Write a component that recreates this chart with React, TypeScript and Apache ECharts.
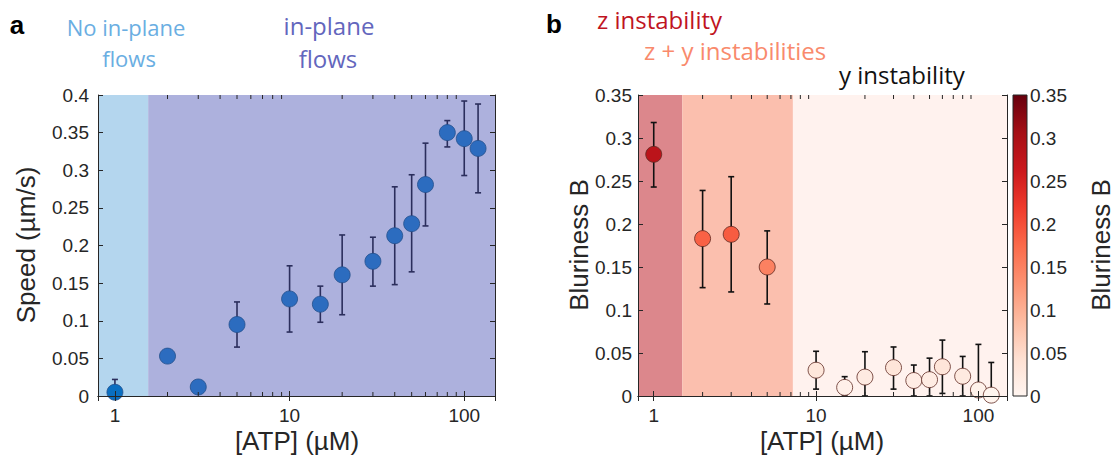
import React, { useEffect, useRef } from "react";
import * as echarts from "echarts";

// ---------- Panel a data ----------
const atpA = [1, 2, 3, 5, 10, 15, 20, 30, 40, 50, 60, 80, 100, 120];
const speed = [0.005, 0.053, 0.012, 0.095, 0.129, 0.122, 0.161, 0.179, 0.213, 0.229, 0.281, 0.35, 0.342, 0.329];
const speedLow = [0, 0.051, 0.01, 0.065, 0.085, 0.098, 0.108, 0.146, 0.148, 0.165, 0.226, 0.331, 0.293, 0.27];
const speedHigh = [0.022, 0.055, 0.014, 0.125, 0.173, 0.146, 0.214, 0.211, 0.278, 0.294, 0.336, 0.366, 0.392, 0.388];
const regionsA = [
  [0.8, 1.55],
  [1.55, 150],
];

// ---------- Panel b data ----------
const atpB = [1, 2, 3, 5, 10, 15, 20, 30, 40, 50, 60, 80, 100, 120];
const blur = [0.281, 0.183, 0.188, 0.15, 0.03, 0.01, 0.022, 0.033, 0.018, 0.019, 0.034, 0.023, 0.007, 0.001];
const blurLow = [0.243, 0.126, 0.121, 0.107, 0.008, 0, 0, 0.008, 0, 0, 0.003, 0, 0, 0];
const blurHigh = [0.318, 0.239, 0.255, 0.192, 0.052, 0.0225, 0.0515, 0.057, 0.036, 0.044, 0.065, 0.046, 0.06, 0.039];
const regionsB = [
  [0.8, 1.5],
  [1.5, 7.2],
  [7.2, 150],
];

// ---------- Axis ticks ----------
const xMin = 0.8;
const xMax = 150;
const minorTicks = [2, 3, 4, 5, 6, 7, 8, 9, 20, 30, 40, 50, 60, 70, 80, 90];

const REDS = ["#fff5f0", "#fee0d2", "#fcbba1", "#fc9272", "#fb6a4a", "#ef3b2c", "#cb181d", "#a50f15", "#67000d"];
const AX = "#262626";
const LABEL_FONT = "'Liberation Sans', Arial, sans-serif";
const ANNOT_FONT = "'Open Sans', sans-serif";

export default function App() {
  const ref = useRef<HTMLDivElement>(null);

  useEffect(() => {
    if (!ref.current) return;
    const chart = echarts.init(ref.current, undefined, { renderer: "svg" });

    const logX = (gridIndex: number, position: "bottom" | "top", labels: boolean) => ({
      type: "log",
      logBase: 10,
      gridIndex,
      position,
      min: xMin,
      max: xMax,
      z: 10,
      axisLine: { show: true, lineStyle: { color: AX, width: 1 } },
      axisTick: { show: true, inside: true, length: 5, lineStyle: { color: AX } },
      axisLabel: {
        show: labels,
        showMinLabel: false,
        showMaxLabel: false,
        color: AX,
        fontSize: 19,
        fontFamily: LABEL_FONT,
        margin: 10,
      },
      splitLine: { show: false },
      minorTick: { show: false },
    });

    const valY = (gridIndex: number, position: "left" | "right", max: number, labels: boolean, margin = 9) => ({
      type: "value",
      gridIndex,
      position,
      min: 0,
      max,
      interval: 0.05,
      z: 10,
      axisLine: { show: true, lineStyle: { color: AX, width: 1 } },
      axisTick: { show: true, inside: true, length: 5, lineStyle: { color: AX } },
      axisLabel: { show: labels, color: AX, fontSize: 19, fontFamily: LABEL_FONT, margin },
      splitLine: { show: false },
    });

    const minorTickSeries = (xi: number, yi: number, yMaxV: number) => ({
      type: "custom",
      xAxisIndex: xi,
      yAxisIndex: yi,
      silent: true,
      clip: false,
      z: 11,
      data: minorTicks.map((v) => [v, 0]),
      renderItem: (params: any, api: any) => {
        const v = api.value(0);
        const b = api.coord([v, 0]);
        const t = api.coord([v, yMaxV]);
        const st = { stroke: AX, lineWidth: 1 };
        return {
          type: "group",
          children: [
            { type: "line", shape: { x1: b[0], y1: b[1], x2: b[0], y2: b[1] - 4 }, style: st },
            { type: "line", shape: { x1: t[0], y1: t[1], x2: t[0], y2: t[1] + 4 }, style: st },
          ],
        };
      },
    });

    const errSeries = (xi: number, yi: number, xs: number[], lo: number[], hi: number[], color: string) => ({
      type: "custom",
      xAxisIndex: xi,
      yAxisIndex: yi,
      silent: true,
      clip: false,
      z: 3,
      encode: { x: 0, y: [1, 2] },
      data: xs.map((x, i) => [x, lo[i], hi[i]]),
      renderItem: (params: any, api: any) => {
        const x = api.value(0);
        const pl = api.coord([x, api.value(1)]);
        const ph = api.coord([x, api.value(2)]);
        const cap = 3;
        const st = { stroke: color, lineWidth: 1.6 };
        return {
          type: "group",
          children: [
            { type: "line", shape: { x1: pl[0], y1: pl[1], x2: ph[0], y2: ph[1] }, style: st },
            { type: "line", shape: { x1: ph[0] - cap, y1: ph[1], x2: ph[0] + cap, y2: ph[1] }, style: st },
            { type: "line", shape: { x1: pl[0] - cap, y1: pl[1], x2: pl[0] + cap, y2: pl[1] }, style: st },
          ],
        };
      },
    });

    const regionColorsA = ["#b4d6ee", "#adb1dd"];
    const regionColorsB = ["#dc878c", "#fbbfae", "#fff2ee"];

    const option: any = {
      animation: false,
      backgroundColor: "#ffffff",
      grid: [
        { left: 98, top: 95, width: 397, height: 301 },
        { left: 638, top: 95, width: 369, height: 301 },
        {
          left: 1013,
          top: 95,
          width: 14,
          height: 301,
          show: true,
          borderColor: AX,
          borderWidth: 1,
          backgroundColor: new echarts.graphic.LinearGradient(0, 0, 0, 1, REDS.slice().reverse().map((c, i, a) => ({ offset: i / (a.length - 1), color: c }))),
        },
      ],
      xAxis: [
        logX(0, "bottom", true),
        logX(0, "top", false),
        logX(1, "bottom", true),
        logX(1, "top", false),
        { type: "value", gridIndex: 2, min: 0, max: 1, show: false },
      ],
      yAxis: [
        valY(0, "left", 0.4, true, 9),
        valY(0, "right", 0.4, false),
        valY(1, "left", 0.35, true, 6),
        valY(1, "right", 0.35, false),
        {
          type: "value",
          gridIndex: 2,
          position: "right",
          min: 0,
          max: 0.35,
          interval: 0.05,
          axisLine: { show: false },
          axisTick: { show: false },
          axisLabel: { show: true, color: AX, fontSize: 19, fontFamily: LABEL_FONT, margin: 3 },
          splitLine: { show: false },
        },
      ],
      visualMap: {
        type: "continuous",
        show: false,
        seriesIndex: 7,
        dimension: 1,
        min: 0,
        max: 0.35,
        inRange: { color: REDS },
      },
      series: [
        // 0: regions a
        {
          type: "scatter",
          xAxisIndex: 0,
          yAxisIndex: 0,
          data: [],
          silent: true,
          z: 1,
          markArea: {
            silent: true,
            data: regionsA.map((r, i) => [
              { xAxis: r[0], itemStyle: { color: regionColorsA[i], opacity: 1 } },
              { xAxis: r[1] },
            ]),
          },
        },
        // 1: minor ticks a
        minorTickSeries(0, 0, 0.4),
        // 2: error bars a
        errSeries(0, 0, atpA, speedLow, speedHigh, "#2b2e5c"),
        // 3: points a
        {
          type: "scatter",
          xAxisIndex: 0,
          yAxisIndex: 0,
          symbolSize: 16,
          z: 4,
          clip: false,
          data: atpA.map((x, i) => ({
            value: [x, speed[i]],
            itemStyle: { color: i === 0 ? "#0a6fc1" : "#2c6cbf" },
          })),
          itemStyle: { borderColor: "#234f8c", borderWidth: 0.8, opacity: 1 },
        },
        // 4: regions b
        {
          type: "scatter",
          xAxisIndex: 2,
          yAxisIndex: 2,
          data: [],
          silent: true,
          z: 1,
          markArea: {
            silent: true,
            data: regionsB.map((r, i) => [
              { xAxis: r[0], itemStyle: { color: regionColorsB[i], opacity: 1 } },
              { xAxis: r[1] },
            ]),
          },
        },
        // 5: minor ticks b
        minorTickSeries(2, 2, 0.35),
        // 6: error bars b
        errSeries(2, 2, atpB, blurLow, blurHigh, "#111111"),
        // 7: points b
        {
          type: "scatter",
          xAxisIndex: 2,
          yAxisIndex: 2,
          symbolSize: 16,
          z: 4,
          clip: false,
          data: atpB.map((x, i) => [x, blur[i]]),
          itemStyle: { borderColor: "#5e2a22", borderWidth: 0.8, opacity: 1 },
        },
      ],
      graphic: [
        { type: "text", x: 17, y: 25, style: { text: "a", fontSize: 26, fontWeight: "bold", fontFamily: LABEL_FONT, fill: "#000", textAlign: "center", textVerticalAlign: "middle" } },
        { type: "text", x: 554, y: 24, style: { text: "b", fontSize: 26, fontWeight: "bold", fontFamily: LABEL_FONT, fill: "#000", textAlign: "center", textVerticalAlign: "middle" } },
        { type: "text", x: 126, y: 27, style: { text: "No in-plane", fontSize: 22, fontFamily: ANNOT_FONT, fill: "#6aaee2", textAlign: "center", textVerticalAlign: "middle" } },
        { type: "text", x: 129, y: 58, style: { text: "flows", fontSize: 22, fontFamily: ANNOT_FONT, fill: "#6aaee2", textAlign: "center", textVerticalAlign: "middle" } },
        { type: "text", x: 329, y: 25, style: { text: "in-plane", fontSize: 24, fontFamily: ANNOT_FONT, fill: "#6366bd", textAlign: "center", textVerticalAlign: "middle" } },
        { type: "text", x: 328, y: 58, style: { text: "flows", fontSize: 24, fontFamily: ANNOT_FONT, fill: "#6366bd", textAlign: "center", textVerticalAlign: "middle" } },
        { type: "text", x: 597, y: 19, style: { text: "z instability", fontSize: 24, fontFamily: ANNOT_FONT, fill: "#c0141f", textAlign: "left", textVerticalAlign: "middle" } },
        { type: "text", x: 644, y: 50, style: { text: "z + y instabilities", fontSize: 24, fontFamily: ANNOT_FONT, fill: "#f98a6c", textAlign: "left", textVerticalAlign: "middle" } },
        { type: "text", x: 839, y: 74, style: { text: "y instability", fontSize: 24, fontFamily: ANNOT_FONT, fill: "#111111", textAlign: "left", textVerticalAlign: "middle" } },
        { type: "text", x: 26, y: 245, rotation: Math.PI / 2, style: { text: "Speed (µm/s)", fontSize: 26, fontFamily: LABEL_FONT, fill: AX, textAlign: "center", textVerticalAlign: "middle" } },
        { type: "text", x: 297, y: 441, style: { text: "[ATP] (µM)", fontSize: 26, fontFamily: LABEL_FONT, fill: AX, textAlign: "center", textVerticalAlign: "middle" } },
        { type: "text", x: 579, y: 245, rotation: Math.PI / 2, style: { text: "Bluriness B", fontSize: 26, fontFamily: LABEL_FONT, fill: AX, textAlign: "center", textVerticalAlign: "middle" } },
        { type: "text", x: 822, y: 441, style: { text: "[ATP] (µM)", fontSize: 26, fontFamily: LABEL_FONT, fill: AX, textAlign: "center", textVerticalAlign: "middle" } },
        { type: "text", x: 1101, y: 245, rotation: Math.PI / 2, style: { text: "Bluriness B", fontSize: 26, fontFamily: LABEL_FONT, fill: AX, textAlign: "center", textVerticalAlign: "middle" } },
      ],
    };

    chart.setOption(option);
    return () => chart.dispose();
  }, []);

  return <div ref={ref} style={{ position: "fixed", left: 0, top: 0, width: 1115, height: 460 }} />;
}
